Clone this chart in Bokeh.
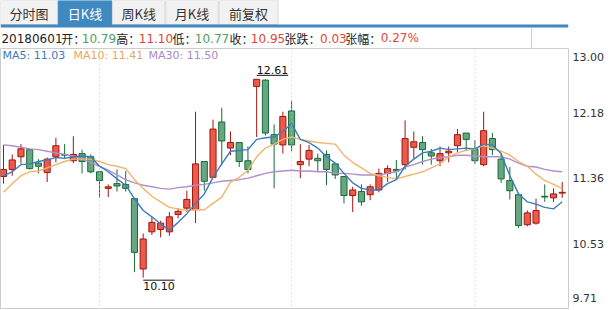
from bokeh.plotting import figure
from bokeh.layouts import column
from bokeh.models import Range1d, FixedTicker, ColumnDataSource, Span
from bokeh.core.properties import value
from bokeh.embed import file_html
from bokeh.resources import INLINE

# ---------------- data ----------------
opens = [11.38, 11.47, 11.63, 11.72, 11.55, 11.43, 11.63, 11.66, 11.58, 11.67,
         11.63, 11.44, 11.23, 11.29, 11.28, 11.10, 10.21, 10.68, 10.71, 10.68,
         10.90, 10.98, 10.96, 11.57, 11.37, 12.07, 11.74, 11.81, 11.58, 12.52,
         12.60, 11.91, 11.78, 12.21, 11.53, 11.60, 11.61, 11.66, 11.54, 11.38,
         11.14, 11.19, 11.15, 11.21, 11.42, 11.47, 11.53, 11.75, 11.81, 11.68,
         11.58, 11.68, 11.77, 11.93, 11.73, 11.53, 11.86, 11.60, 11.33, 11.15,
         10.77, 10.79, 11.13, 11.11, 11.17]
highs = [11.78, 11.66, 11.79, 11.73, 11.60, 11.62, 11.87, 11.79, 11.89, 11.72,
         11.66, 11.44, 11.28, 11.47, 11.45, 11.10, 10.66, 10.87, 10.82, 10.93,
         10.98, 11.20, 12.20, 11.57, 12.10, 12.25, 11.95, 11.81, 11.76, 12.61,
         12.61, 12.04, 12.20, 12.34, 11.79, 11.78, 11.67, 11.71, 11.54, 11.38,
         11.25, 11.28, 11.28, 11.48, 11.52, 11.59, 12.09, 11.95, 11.89, 11.73,
         11.76, 11.76, 11.98, 11.93, 11.84, 12.20, 11.93, 11.67, 11.50, 11.16,
         10.95, 11.10, 11.28, 11.23, 11.31]
lows = [11.29, 11.39, 11.54, 11.47, 11.42, 11.31, 11.56, 11.60, 11.55, 11.42,
        11.42, 11.11, 11.12, 11.19, 11.19, 10.17, 10.10, 10.64, 10.61, 10.63,
        10.85, 10.93, 10.79, 11.20, 11.37, 11.52, 11.65, 11.50, 11.42, 11.88,
        11.90, 11.23, 11.67, 11.70, 11.36, 11.51, 11.45, 11.27, 11.35, 11.04,
        10.93, 11.01, 11.08, 11.18, 11.31, 11.35, 11.47, 11.61, 11.53, 11.53,
        11.51, 11.56, 11.69, 11.71, 11.54, 11.51, 11.65, 11.30, 11.09, 10.73,
        10.75, 10.77, 11.06, 11.06, 11.11]
closes = [11.47, 11.59, 11.73, 11.48, 11.51, 11.60, 11.77, 11.65, 11.66, 11.57,
          11.44, 11.33, 11.25, 11.26, 11.23, 10.42, 10.59, 10.80, 10.79, 10.87,
          10.94, 11.09, 11.54, 11.32, 11.98, 11.83, 11.81, 11.57, 11.47, 12.61,
          11.93, 11.79, 12.14, 11.78, 11.57, 11.71, 11.58, 11.47, 11.40, 11.14,
          11.21, 11.06, 11.25, 11.42, 11.48, 11.45, 11.86, 11.82, 11.72, 11.64,
          11.67, 11.70, 11.91, 11.85, 11.58, 11.96, 11.72, 11.35, 11.20, 10.76,
          10.92, 10.95, 11.12, 11.16, 11.18]
ma5 = [11.39, 11.44, 11.53, 11.54, 11.57, 11.59, 11.62, 11.61, 11.63, 11.64,
       11.63, 11.51, 11.44, 11.35, 11.27, 11.10, 10.95, 10.87, 10.78, 10.70,
       10.80, 10.91, 11.04, 11.16, 11.37, 11.54, 11.70, 11.71, 11.72, 11.85,
       11.87, 11.88, 11.95, 12.05, 11.85, 11.81, 11.74, 11.63, 11.55, 11.42,
       11.30, 11.23, 11.21, 11.21, 11.29, 11.34, 11.51, 11.60, 11.68, 11.70,
       11.74, 11.72, 11.73, 11.74, 11.73, 11.79, 11.78, 11.67, 11.39, 11.16,
       11.06, 11.03, 10.99, 10.97, 11.06]
ma10 = [11.18, 11.29, 11.39, 11.44, 11.45, 11.49, 11.53, 11.57, 11.60, 11.60,
        11.60, 11.57, 11.53, 11.51, 11.48, 11.34, 11.23, 11.13, 11.06, 10.99,
        10.97, 10.95, 10.96, 10.96, 11.04, 11.12, 11.31, 11.37, 11.46, 11.63,
        11.74, 11.79, 11.85, 11.88, 11.85, 11.83, 11.81, 11.80, 11.79, 11.65,
        11.56, 11.49, 11.42, 11.39, 11.37, 11.35, 11.38, 11.41, 11.44, 11.49,
        11.54, 11.63, 11.68, 11.71, 11.73, 11.77, 11.74, 11.70, 11.65, 11.57,
        11.51, 11.41, 11.33, 11.28, 11.23]
ma30 = [11.78, 11.77, 11.75, 11.73, 11.72, 11.70, 11.68, 11.66, 11.64, 11.60,
        11.56, 11.51, 11.46, 11.40, 11.34, 11.30, 11.27, 11.25, 11.23, 11.22,
        11.24, 11.25, 11.27, 11.28, 11.30, 11.32, 11.33, 11.34, 11.36, 11.39,
        11.42, 11.44, 11.45, 11.46, 11.45, 11.45, 11.44, 11.44, 11.42, 11.42,
        11.41, 11.40, 11.40, 11.40, 11.42, 11.44, 11.50, 11.53, 11.57, 11.60,
        11.62, 11.63, 11.65, 11.65, 11.64, 11.63, 11.63, 11.63, 11.60, 11.55,
        11.51, 11.50, 11.47, 11.45, 11.44]
month_breaks = [11, 33, 54]

tabs = ["分时图", "日K线", "周K线", "月K线", "前复权"]
selected_tab = 1
tick_labels = ["13.00", "12.18", "11.36", "10.53", "9.71"]
tick_values = [13.00, 12.18, 11.36, 10.53, 9.71]

header_date = "20180601"
header_names = ["开：", "高：", "低：", "收：", "张跌：", "张幅："]
header_values = ["10.79", "11.10", "10.77", "10.95", "0.03", "0.27%"]
header_is_up = [False, True, False, True, True, True]
legend_names = ["MA5", "MA10", "MA30"]
legend_values = ["11.03", "11.41", "11.50"]

# ---------------- styles / layout ----------------
W = 608
TOP_H = 48
FRAME_W = 568
FRAME_H = 260
MAIN_H = FRAME_H + 2
STEP = 8.73          # px between candles
FIRST_X = 3.0        # px of first candle centre
Y_MIN, Y_MAX = tick_values[-1], tick_values[0]
PPU = FRAME_H / (Y_MAX - Y_MIN)

RED_FILL, RED_LINE = "#eb5a4b", "#a0170f"
GREEN_FILL, GREEN_LINE = "#66a682", "#176b36"
C_MA5, C_MA10, C_MA30 = "#3c7cbc", "#f0b46c", "#b18fca"
TXT_MA = ["#3c7cbc", "#e9a75a", "#a98bc4"]
NUM_RED, NUM_GREEN = "#e5453a", "#4f9e6c"
BLUE = "#4088c0"
BORDER = "#cdcdcd"
DIGIT_FONT = "DejaVu Sans"
CJK = "Noto Sans CJK SC"

x_start = -FIRST_X / STEP
x_end = x_start + FRAME_W / STEP


def dx(px):
    return px / STEP


def dy(px):
    return px / PPU


# ---------------- top bar (tabs + header) ----------------
t = figure(width=W, height=TOP_H, x_range=Range1d(0, W), y_range=Range1d(TOP_H, 0),
           x_axis_location=None, y_axis_location=None, toolbar_location=None,
           output_backend="svg", min_border=0)
t.grid.visible = False
t.outline_line_color = None

tab_edges = [(0, 61), (62, 119), (120, 176), (177, 233), (234, 297)]
t.quad(left=[e[0] for e in tab_edges], right=[e[1] for e in tab_edges],
       top=[0] * len(tabs), bottom=[24] * len(tabs),
       fill_color=[BLUE if i == selected_tab else "#f2f2f2" for i in range(len(tabs))],
       line_color=[BLUE if i == selected_tab else "#d9d9d9" for i in range(len(tabs))])
t.text(x=[(e[0] + e[1]) / 2 for e in tab_edges], y=[12.5] * len(tabs), text=tabs,
       text_color=["#ffffff" if i == selected_tab else "#333333" for i in range(len(tabs))],
       text_align="center", text_baseline="middle", text_font=value(CJK), text_font_size="13px")
t.quad(left=[0], right=[W], top=[24], bottom=[27], fill_color=BLUE, line_color=None)
t.segment(x0=[FRAME_W + 0.5], y0=[27], x1=[FRAME_W + 0.5], y1=[TOP_H], line_color=BORDER, line_width=1)

HDR_Y = 37.5
t.text(x=[1], y=[HDR_Y], text=[header_date], text_color="#222222", text_baseline="middle",
       text_font=value(DIGIT_FONT), text_font_size="12px")
name_x = [65, 124, 184, 245, 304, 369]
val_x = [87, 148, 208, 268, 342, 407]
t.text(x=name_x, y=[HDR_Y] * len(name_x), text=header_names, text_color="#222222",
       text_baseline="middle", text_font=value(CJK), text_font_size="12px")
t.text(x=val_x, y=[HDR_Y] * len(val_x), text=header_values,
       text_color=[NUM_RED if u else NUM_GREEN for u in header_is_up],
       text_baseline="middle", text_font=value(DIGIT_FONT), text_font_size="12px")

# ---------------- main candle chart ----------------
p = figure(width=W, height=MAIN_H, x_range=Range1d(x_start, x_end), y_range=Range1d(Y_MIN, Y_MAX),
           x_axis_location=None, y_axis_location="right", toolbar_location=None,
           output_backend="svg", min_border_left=0, min_border_right=W - FRAME_W,
           min_border_top=0, min_border_bottom=MAIN_H - FRAME_H)
p.xgrid.visible = False
p.ygrid.visible = False
p.outline_line_color = BORDER
p.background_fill_color = "white"

# price axis labels: first/last are drawn inside the frame like the original
tick_pos = list(tick_values)
tick_pos[0] = round(tick_values[0] - dy(8.5), 3)
tick_pos[-1] = round(tick_values[-1] + dy(10.5), 3)
ax = p.yaxis[0]
ax.ticker = FixedTicker(ticks=tick_pos)
ax.major_label_overrides = {tp: lab for tp, lab in zip(tick_pos, tick_labels)}
ax.axis_line_color = None
ax.major_tick_line_color = None
ax.minor_tick_line_color = None
ax.major_tick_in = 0
ax.major_tick_out = 0
ax.major_label_standoff = 4
ax.major_label_text_font = DIGIT_FONT
ax.major_label_text_font_size = "11px"
ax.major_label_text_color = "#333333"

for mb in month_breaks:
    p.add_layout(Span(location=mb, dimension="height", line_color="#c4c4c4",
                      line_dash="1 3", line_width=1))

idx = list(range(len(closes)))
up = [c >= o for o, c in zip(opens, closes)]
src = ColumnDataSource(dict(
    x=idx, high=highs, low=lows,
    top=[max(o, c) for o, c in zip(opens, closes)],
    bottom=[min(o, c) for o, c in zip(opens, closes)],
    fill=[RED_FILL if u else GREEN_FILL for u in up],
    line=[RED_LINE if u else GREEN_LINE for u in up],
))
p.segment(x0="x", y0="low", x1="x", y1="high", line_color="line", line_width=1, source=src)
p.vbar(x="x", width=0.7, top="top", bottom="bottom", fill_color="fill",
       line_color="line", line_width=1, source=src)

p.line(idx, ma30, line_color=C_MA30, line_width=1.4)
p.line(idx, ma10, line_color=C_MA10, line_width=1.4)
p.line(idx, ma5, line_color=C_MA5, line_width=1.4)

# legend row
leg_px = [2, 73, 148]
p.text(x=[x_start + dx(v) for v in leg_px], y=[Y_MAX - dy(7)] * 3,
       text=[f"{n}: {v}" for n, v in zip(legend_names, legend_values)],
       text_color=TXT_MA, text_baseline="middle", text_font=value(DIGIT_FONT),
       text_font_size="11px")

# extreme markers
i_hi = max(idx, key=lambda i: highs[i])
i_lo = min(idx, key=lambda i: lows[i])
hi, lo = highs[i_hi], lows[i_lo]
LAB_W = 31.5
p.segment(x0=[i_hi], y0=[hi + dy(4)], x1=[i_hi + dx(LAB_W)], y1=[hi + dy(4)],
          line_color="#111111", line_width=1)
p.text(x=[i_hi], y=[hi + dy(4)], text=[f"{hi:.2f}"], text_baseline="bottom", y_offset=-1,
       text_color="#111111", text_font=value(DIGIT_FONT), text_font_size="11px")
p.segment(x0=[i_lo], y0=[lo - dy(2.5)], x1=[i_lo + dx(LAB_W)], y1=[lo - dy(2.5)],
          line_color="#111111", line_width=1)
p.text(x=[i_lo], y=[lo - dy(2.5)], text=[f"{lo:.2f}"], text_baseline="top", y_offset=2,
       text_color="#111111", text_font=value(DIGIT_FONT), text_font_size="11px")

layout = column(t, p, spacing=0)
open("out.html", "w").write(file_html(layout, INLINE))
